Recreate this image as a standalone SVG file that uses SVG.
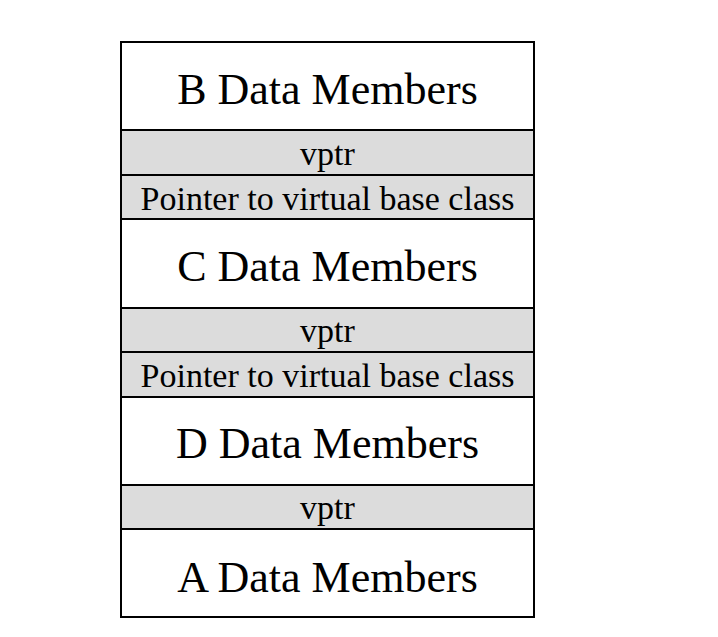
<svg xmlns="http://www.w3.org/2000/svg" width="718" height="637" viewBox="0 0 718 637">
<style>
.w{fill:#fff;stroke:#000;stroke-width:2}
.g{fill:#dcdcdc;stroke:#000;stroke-width:2}
.big{font-family:"Liberation Serif",serif;font-size:44px;fill:#000;text-anchor:middle}
.sm{font-family:"Liberation Serif",serif;font-size:34px;fill:#000;text-anchor:middle}
</style>
<rect width="718" height="637" fill="#fff"/>
<g id="b-data"><rect class="w" x="121" y="42" width="413" height="88"/><text class="big" x="327.5" y="104">B Data Members</text></g>
<g id="b-vptr"><rect class="g" x="121" y="130" width="413" height="45"/><text class="sm" x="327.5" y="165">vptr</text></g>
<g id="b-pvb"><rect class="g" x="121" y="175" width="413" height="44"/><text class="sm" x="327.5" y="210">Pointer to virtual base class</text></g>
<g id="c-data"><rect class="w" x="121" y="219" width="413" height="89"/><text class="big" x="327.5" y="281">C Data Members</text></g>
<g id="c-vptr"><rect class="g" x="121" y="308" width="413" height="44"/><text class="sm" x="327.5" y="342">vptr</text></g>
<g id="c-pvb"><rect class="g" x="121" y="352" width="413" height="45"/><text class="sm" x="327.5" y="387">Pointer to virtual base class</text></g>
<g id="d-data"><rect class="w" x="121" y="397" width="413" height="88"/><text class="big" x="327.5" y="458">D Data Members</text></g>
<g id="d-vptr"><rect class="g" x="121" y="485" width="413" height="44"/><text class="sm" x="327.5" y="519">vptr</text></g>
<g id="a-data"><rect class="w" x="121" y="529" width="413" height="88"/><text class="big" x="327.5" y="592">A Data Members</text></g>
<g id="connectors"></g>
</svg>
